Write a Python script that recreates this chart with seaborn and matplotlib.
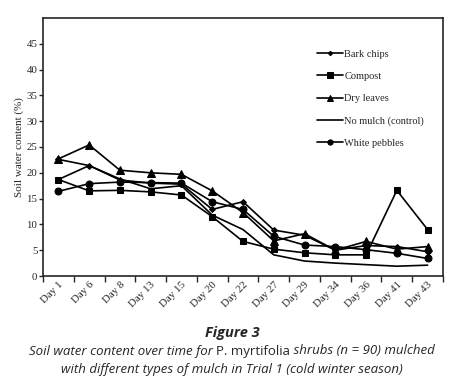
import pandas as pd
import seaborn as sns
import matplotlib.pyplot as plt
from matplotlib.ticker import FixedLocator
from matplotlib.transforms import ScaledTranslation

# values (soil water content, %)
days = ['Day 1', 'Day 6', 'Day 8', 'Day 13', 'Day 15', 'Day 20', 'Day 22',
        'Day 27', 'Day 29', 'Day 34', 'Day 36', 'Day 41', 'Day 43']
bark_chips = [22.6, 21.4, 18.6, 18.0, 17.8, 12.9, 14.4, 8.9, 7.9, 5.0, 5.9, 5.7, 4.7]
compost = [18.7, 16.5, 16.6, 16.3, 15.7, 11.5, 6.7, 5.2, 4.5, 4.1, 4.1, 16.6, 9.0]
dry_leaves = [22.7, 25.4, 20.5, 20.0, 19.7, 16.5, 12.3, 6.8, 8.2, 5.0, 6.7, 5.2, 5.7]
no_mulch = [18.7, 21.4, 18.8, 16.9, 17.5, 11.8, 9.0, 4.1, 2.9, 2.5, 2.2, 1.9, 2.1]
white_pebbles = [16.4, 17.9, 18.2, 18.1, 18.0, 14.4, 12.9, 7.7, 6.0, 5.7, 5.1, 4.4, 3.4]

series = {
    'Bark chips': bark_chips,
    'Compost': compost,
    'Dry leaves': dry_leaves,
    'No mulch (control)': no_mulch,
    'White pebbles': white_pebbles,
}
rows = []
for name, vals in series.items():
    for d, v in zip(days, vals):
        rows.append({'day': d, 'swc': v, 'mulch': name})
data = pd.DataFrame(rows)

sns.set_style('ticks')
plt.rcParams['font.family'] = ['Liberation Serif', 'DejaVu Serif']

fig = plt.figure(figsize=(4.64, 3.89), dpi=100)
ax = fig.add_axes([43 / 464, 1 - 276 / 389, 400 / 464, 258 / 389])

markers = {'Bark chips': 'D', 'Compost': 's', 'Dry leaves': '^',
           'No mulch (control)': None, 'White pebbles': 'o'}
sizes = {'Bark chips': 3, 'Compost': 5, 'Dry leaves': 5.2,
         'No mulch (control)': 0, 'White pebbles': 5}

for name in series:
    sub = data[data['mulch'] == name]
    sns.lineplot(data=sub, x='day', y='swc', ax=ax, color='black', linewidth=1.2,
                 marker=markers[name], markersize=sizes[name],
                 markeredgecolor='black', label=name, sort=False)

ax.set_xlim(-0.5, len(days) - 0.5)
ax.set_ylim(0, 50)
ax.set_yticks(range(0, 50, 5))
ax.set_xticks(range(len(days)))
ax.set_xticklabels(days, rotation=45, ha='right', rotation_mode='anchor')
shift = ScaledTranslation(5 / 100, 0, fig.dpi_scale_trans)
for lab in ax.get_xticklabels():
    lab.set_transform(lab.get_transform() + shift)
ax.xaxis.set_minor_locator(FixedLocator([i - 0.5 for i in range(len(days) + 1)]))
ax.tick_params(axis='x', which='major', length=0, pad=3, labelsize=7.8)
ax.tick_params(axis='x', which='minor', length=4, width=1, direction='out')
ax.tick_params(axis='y', length=3, width=1, labelsize=7.8, pad=1)
for s in ax.spines.values():
    s.set_linewidth(1.2)
    s.set_visible(True)
ax.set_xlabel('')
ax.set_ylabel('Soil water content (%)', fontsize=8, labelpad=2)

leg = ax.legend(loc='upper left', bbox_to_anchor=(0.675, 0.895), frameon=False,
                fontsize=7.5, handlelength=2.5, handletextpad=0.1,
                labelspacing=1.25, borderaxespad=0, markerscale=0.75)

# caption
cap = dict(fontsize=9.5, family='Open Sans', va='center')
fig.text(0.5, 1 - 333 / 389, 'Figure 3', ha='center', va='center', fontsize=10.5,
         fontweight='bold', style='italic', family='Open Sans')
parts = [('Soil water content over time for ', 'italic'),
         ('P. myrtifolia', 'normal'),
         (' shrubs (n = 90) mulched', 'italic')]
texts = [fig.text(0, 1 - 351 / 389, t, style=st, ha='left', **cap) for t, st in parts]
fig.canvas.draw()
r = fig.canvas.get_renderer()
widths = [t.get_window_extent(r).width for t in texts]
x = (464 - sum(widths)) / 2
for t, w in zip(texts, widths):
    t.set_x(x / 464)
    x += w
fig.text(0.5, 1 - 369 / 389,
         'with different types of mulch in Trial 1 (cold winter season)',
         ha='center', style='italic', **cap)

fig.savefig('out.png', dpi=100, facecolor='white')
